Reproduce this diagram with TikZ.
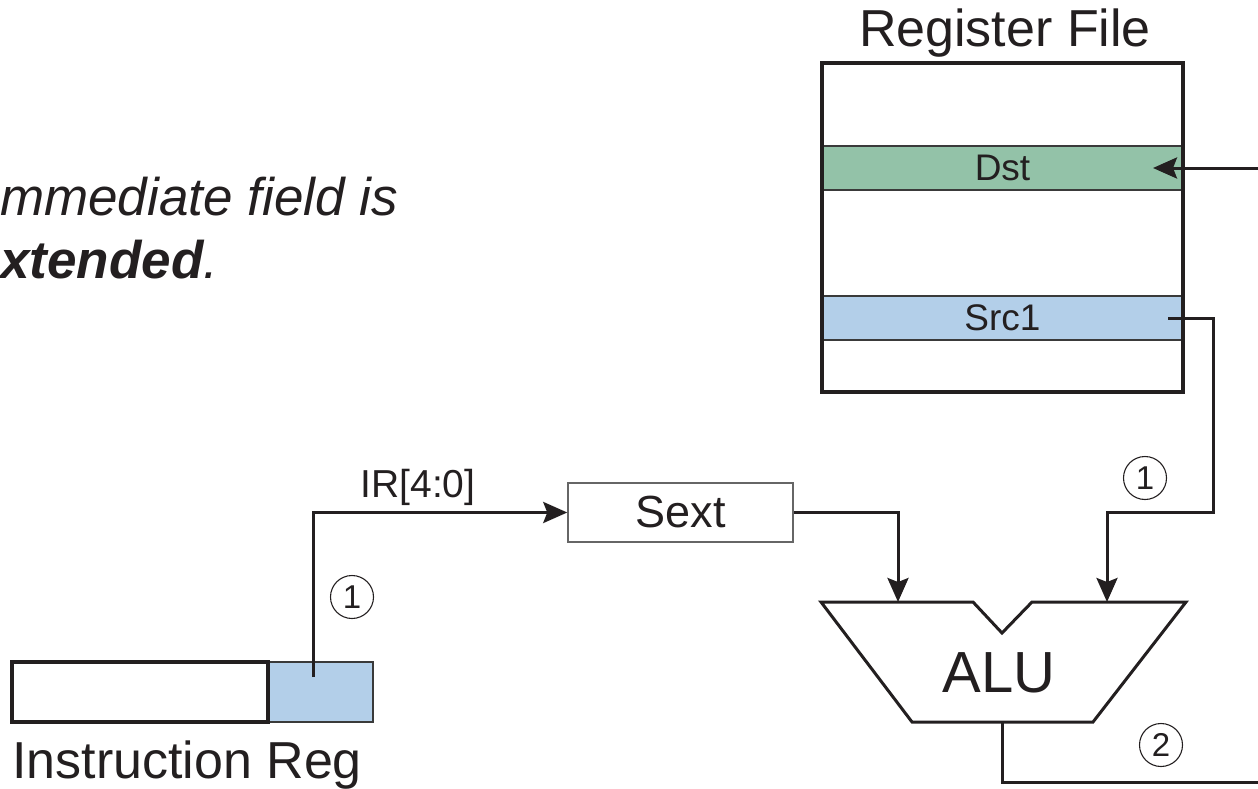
\documentclass[tikz,border=0pt]{standalone}
\usepackage{fontspec}
\setmainfont{Liberation Sans}
\usetikzlibrary{arrows.meta}
\definecolor{ink}{HTML}{231F20}
\definecolor{regGreen}{HTML}{93C2A8}
\definecolor{regBlue}{HTML}{B3CFE9}
\definecolor{rowEdge}{HTML}{3A3A3A}
\newcommand{\fs}[1]{\fontsize{#1}{#1}\selectfont}
\tikzset{
  wire/.style={draw=ink, line width=3pt},
  arr/.style={wire, -{Stealth[length=24pt, width=21pt, inset=4pt]}},
  outerbox/.style={draw=ink, line width=3.2pt, fill=none, inner sep=0pt},
  regrow/.style={draw=rowEdge, line width=2pt, inner sep=0pt,
                 minimum width=361pt, minimum height=44pt, text=ink},
  sextbox/.style={draw=gray!80!black, line width=1.5pt, fill=white, inner sep=0pt,
                  minimum width=225pt, minimum height=59pt, text=ink},
  stepnum/.style={circle, draw=ink, line width=1.1pt, minimum size=43pt,
                  inner sep=0pt, text=ink, font=\fs{33}},
  lbl/.style={text=ink, inner sep=0pt}
}
\begin{document}
\begin{tikzpicture}[x=1pt, y=-1pt]
\useasboundingbox (0,0) rectangle (1258,789);

% caption text at the upper left
\node[lbl, anchor=base west, font=\fs{53}\itshape] (cap1) at (0,215) {mmediate field is};
\node[lbl, anchor=base west, font=\fs{53}\bfseries\itshape] (cap2) at (0,278) {xtended\textmd{.}};

% register file
\node[lbl, anchor=base, font=\fs{52}] (rftitle) at (1005,47) {Register File};
\node[regrow, fill=white] (rfbody) at (1002.5,227.5) [minimum height=329pt] {};
\node[regrow, fill=regGreen, font=\fs{37}] (dst) at (1002.5,168) {Dst};
\node[regrow, fill=regBlue, font=\fs{37}] (src1) at (1002.5,318) {Src1};
\node[outerbox, minimum width=361pt, minimum height=329pt] (rf) at (1002.5,227.5) {};

% instruction register
\node[draw=rowEdge, line width=2pt, fill=regBlue, inner sep=0pt,
      minimum width=105pt, minimum height=60pt] (imm) at (320.5,692) {};
\node[outerbox, minimum width=256pt, minimum height=60pt] (irbody) at (140,692) {};
\node[lbl, anchor=base west, font=\fs{52}] (irtitle) at (12,778) {Instruction Reg};

% sign extender
\node[sextbox, font=\fs{45}] (sext) at (680.5,512.5) {Sext};

% ALU
\coordinate (aluA) at (898,602);
\coordinate (aluB) at (1107,602);
\coordinate (aluOut) at (1002,722);
\draw[draw=ink, line width=3pt, line join=miter, fill=white]
  (821,602) -- (973,602) -- (1002,633) -- (1032,602) -- (1186,602)
  -- (1093,722) -- (912,722) -- cycle;
\node[lbl, anchor=base, font=\fs{58}] (alu) at (999,692) {ALU};

% connectors
\coordinate (immTap) at (313,677);
\coordinate (src1Tap) at (1168,318);
\coordinate (dstIn) at (1153,168);
\coordinate (wbFrom) at (1258,168);
\coordinate (outEnd) at (1258,782);

\draw[arr] (immTap) |- (sext.west);
\node[lbl, anchor=base, font=\fs{39}] (irlbl) at (418,497) {IR[4:0]};
\draw[arr] (sext.east) -| (aluA);
\draw[arr] (src1Tap) -- (1213,318) -- (1213,512) -| (aluB);
\draw[arr] (wbFrom) -- (dstIn);
\draw[wire] (aluOut) |- (outEnd);

% step numbers
\node[stepnum] (s1a) at (352,597) {1};
\node[stepnum] (s1b) at (1145,478) {1};
\node[stepnum] (s2) at (1161,745) {2};
\end{tikzpicture}
\end{document}
